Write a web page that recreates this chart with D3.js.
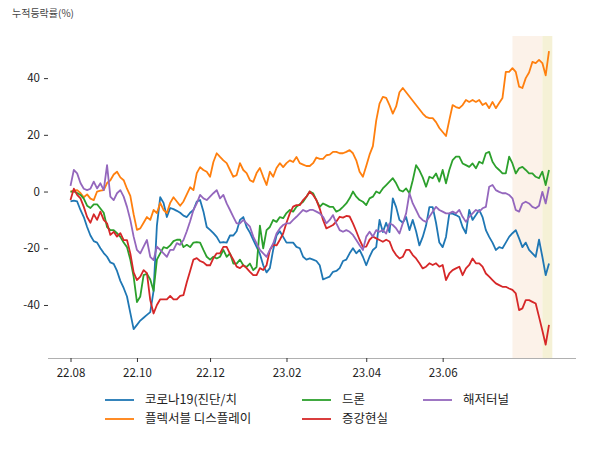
<!DOCTYPE html>
<html>
<head>
<meta charset="utf-8">
<script src="https://cdn.jsdelivr.net/npm/d3@7"></script>
<style>
  body { margin: 0; background: #fff; }
  svg text { font-family: "Noto Sans CJK KR", "Noto Sans", sans-serif; }
</style>
</head>
<body>
<div id="chart"></div>
<script>
// series names (legend order)
const names = ["코로나19(진단/치", "플렉서블 디스플레이", "드론", "증강현실", "해저터널"];
const colors = ["#1f77b4", "#ff7f0e", "#2ca02c", "#d62728", "#9467bd"];

// x tick labels and the trading-day index they sit on
const tickLabels = ["22.08", "22.10", "22.12", "23.02", "23.04", "23.06"];
const tickIndex = [0, 20, 42, 65, 89, 112];

// highlighted spans (index ranges)
const spans = [[133, 142], [142, 145]];
const spanColors = ["#fcf2e9", "#f5f1d6"];

const yTicks = [-40, -20, 0, 20, 40];

// cumulative change (%)
const corona = [-3.5, -3.2, -3.5, -6.5, -9, -12.5, -15.5, -17.5, -18, -20,
  -21.7, -23, -25, -25.5, -28, -31.5, -34, -37, -42.8, -48.5,
  -47, -45.5, -44.5, -43.5, -42.5, -35, -12, -2, -4, -9,
  -5.8, -6.2, -6.8, -7.5, -8.5, -9, -7.5, -6.5, -3.5, -3,
  -7, -12.5, -13.5, -14.7, -16, -18, -17.8, -18, -15.5, -15.5,
  -14, -10, -9, -12.5, -14.5, -17, -19.5, -22, -26, -28.5,
  -27, -20.5, -15.5, -14, -16, -18, -18, -18, -19.5, -20,
  -23, -24, -23.6, -24, -24.5, -26, -31, -30.5, -30, -28.3,
  -28, -27, -24.5, -24, -21.8, -20, -21.8, -20.6, -23, -26,
  -23, -20.6, -19.6, -10, -14.3, -11, -14.3, -2.4, -5.5, -10,
  -11, -9, -13.6, -10, -14, -19, -16, -12, -5.5, -5.5,
  -11, -18, -19.6, -16, -7.8, -7.8, -8.3, -9, -12.5, -14.7,
  -6.5, -10, -8.3, -6.5, -9, -13.6, -16, -18, -20.6, -19.6,
  -20, -18, -16, -14.7, -13.6, -16.5, -19.6, -18, -20.6, -21.8,
  -23, -17, -23, -29.5, -25.4];

const flexible = [0, 0.3, 0.5, -0.5, -2, -1, -2.5, -3, 0, 0.3,
  0.5, 3, 4, 6, 7, 5, 4, 1, -1.5, -8,
  -13.5, -13, -11, -9, -10, -6.5, -7.6, -4, -6.5, -7.6,
  -4, -2, -3.5, -5, -3.5, -1, 1.5, 0.5, 6.5, 8.6,
  7.6, 7, 5.2, 10.4, 13.5, 12.2, 11, 10, 7.6, 5.2,
  5.8, 10, 7.6, 6.5, 4, 3.4, 6.5, 8.3, 5.2, 2.3,
  7, 5.2, 8.3, 10, 8.6, 10, 11, 10.4, 12.2, 10,
  9.5, 9, 9, 10, 12, 11.5, 11.5, 12.8, 13, 14,
  14, 13.5, 13.5, 14, 14.6, 13.5, 11, 7, 5.2, 9,
  13, 16, 25, 31, 33.4, 33, 30.5, 27.5, 30, 35,
  36.5, 35, 33.5, 32, 30.5, 29, 27.5, 26.3, 25.9, 25.9,
  24.5, 22.4, 21, 19.6, 25.2, 30.5, 29.8, 29.4, 30.5, 32.3,
  31.6, 32.3, 31.6, 32.3, 30.5, 31.2, 29.4, 31.6, 29.4, 31.2,
  33, 42.2, 42.2, 43.5, 42.2, 37, 36.5, 40, 42, 45.7,
  45.3, 46.4, 45.3, 41, 49.5];

const drone = [0, 0, -0.5, -1.2, -2.5, -5, -5.8, -4.5, -4.5, -6,
  -7.5, -12.5, -13.6, -13.6, -14.7, -16, -18, -19.6, -24, -30,
  -39, -37, -29.5, -29, -31, -35, -24, -21.8, -19.6, -20,
  -19, -17.5, -17, -17, -19.6, -18.8, -19.6, -18, -17.8, -18,
  -20.6, -23, -24, -23, -23.6, -23, -20.6, -23, -21.8, -25.4,
  -25.4, -24, -26, -26.6, -25.4, -27.7, -26.6, -12, -20, -13.6,
  -12.5, -10, -10.7, -9, -9.4, -7.6, -6.5, -7.1, -5.4, -4.5,
  -3.6, -1.8, 0, -0.6, -3, -5.4, -4.2, -4.8, -5.4, -5.4,
  -7.1, -6.5, -5.4, -4.2, -2.4, 0, -1.8, -3, -3.6, -4.8,
  -2.4, -1.8, 0, -0.6, 1.1, 2.3, 3.5, 4.7, 2.9, 0.5,
  0, 1.1, -0.6, 4, 9.3, 7.5, 5, 1.7, 5.2, 4.7,
  6.4, 3.5, 7.6, 2.9, 7.6, 11.1, 12.3, 12.3, 9.9, 9.3,
  8.7, 9.9, 8.2, 10.5, 9.9, 13.5, 14, 10.5, 8.7, 7.6,
  6.4, 6.4, 12.3, 9.9, 6.4, 8.2, 8.7, 7.6, 6.4, 6.4,
  5.2, 4.7, 7, 2.3, 7.6];

const ar = [-3, 1, -1.2, -2.4, -5.4, -9, -11, -8, -10, -7.1,
  -10, -11.2, -15.3, -14.2, -15.9, -14.7, -17.1, -17.1, -21.8, -28.5,
  -31.2, -30, -27.7, -28.8, -38.3, -43, -40, -38, -38, -38,
  -36.8, -38, -38, -36.8, -36.5, -32, -28, -24, -23.5, -24.5,
  -25, -26, -26, -23.5, -21.8, -21.8, -19.5, -19.5, -22, -24,
  -26.5, -27, -26, -27, -28.3, -29.5, -29.5, -27, -27.7, -26,
  -20.6, -18.8, -19, -17, -14.8, -11, -7.7, -5.3, -4.8, -4.8,
  -3, -1.8, 0, -1.2, -3, -6, -10, -13, -12.4, -11.8,
  -10.6, -8.9, -9.2, -8.6, -8.8, -11.2, -14, -17, -19.5, -19.4,
  -17, -15.9, -16.5, -17.1, -17.7, -17, -17.6, -20.6, -22.4, -23.6,
  -23, -20.6, -20.6, -22.4, -23.6, -25.3, -27.1, -26.5, -25.3, -25.9,
  -25.3, -26.5, -25.9, -31.2, -28.9, -27.7, -27.1, -26.5, -29.5, -27.1,
  -25.9, -23.6, -25.3, -25.3, -26.5, -28.9, -30, -31.2, -32.4, -33,
  -33.6, -33.6, -34.2, -34.7, -35.9, -41.8, -41.2, -38.3, -38.3, -38.9,
  -39.5, -44.2, -49, -54, -47];

const tunnel = [2, 7.6, 6.4, 3, 1, 0.5, 1, 3.5, 1.1, 2.9,
  0.5, 9.3, -1.8, -3, -0.6, 0.5, -1.8, -5.4, -10, -15.9,
  -20.6, -21.8, -19.4, -17.1, -23, -24.2, -19.4, -20.6, -21.8, -23,
  -20.6, -20.6, -18.2, -18.8, -17.1, -14, -10.5, -6.5, -4.2, -1.2,
  -2.4, -3, -1.8, -0.6, 0.5, -2.4, -1.2, -4.2, -6.5, -8.9,
  -11.2, -11.2, -10, -11.2, -12.4, -15.9, -18.3, -20.6, -21.8, -23,
  -20.6, -18.3, -14.8, -13, -11.8, -11.2, -11.2, -10, -8.9, -7.7,
  -6.5, -7.1, -6.5, -6.5, -7.1, -7.7, -8.9, -11.2, -10, -8.3,
  -11.2, -13.6, -14.2, -13.6, -14.2, -15.3, -17.1, -18.9, -20.6, -15.9,
  -14.2, -15.9, -13.6, -14.2, -13.6, -14.8, -11.2, -11.8, -13, -14.8,
  -11.2, -7.7, -0.6, -4.2, -6.5, -8.9, -10.1, -10.7, -8.9, -7.1,
  -5.4, -6.5, -7.1, -7.7, -7.7, -7.1, -7.7, -6.5, -8.9, -10.7,
  -8.9, -7.7, -6.5, -7.1, -5.9, -5.4, 1.7, 2.3, 0.5, -0.1,
  -0.6, -0.6, -1.2, -2.4, -6.5, -7.1, -4.2, -3.6, -4.2, -5.4,
  -5.9, -5, -0.1, -4.2, 1.7];

const series = [corona, flexible, drone, ar, tunnel];

const width = 600, height = 450;
const n = corona.length;

const svg = d3.select("#chart").append("svg")
    .attr("width", width)
    .attr("height", height);

// scales (matplotlib style 5% padding around data)
const xScale = d3.scaleLinear().domain([0, n - 1]).range([70.5, 549]);
const yScale = d3.scaleLinear().domain([-58.7, 54.85]).range([358, 36]);

// shaded spans
spans.forEach(function(s, i) {
    svg.append("rect")
        .attr("x", xScale(s[0]))
        .attr("y", yScale.range()[1])
        .attr("width", xScale(s[1]) - xScale(s[0]))
        .attr("height", yScale.range()[0] - yScale.range()[1])
        .attr("fill", spanColors[i]);
});

// y axis (ticks only, no spine)
const yAxis = svg.append("g")
    .attr("transform", "translate(48,0)")
    .call(d3.axisLeft(yScale).tickValues(yTicks).tickSize(4).tickPadding(4)
        .tickFormat(function(d) { return d; }));
yAxis.select(".domain").remove();
yAxis.selectAll("line").attr("stroke", "#333");
yAxis.selectAll("text").style("font-size", "11.5px").attr("fill", "#222");

// x axis
const xAxis = svg.append("g")
    .attr("transform", "translate(0,358)")
    .call(d3.axisBottom(xScale).tickValues(tickIndex).tickSize(4).tickPadding(7)
        .tickFormat(function(d, i) { return tickLabels[i]; }));
xAxis.select(".domain")
    .attr("d", "M48,0.5H576")
    .attr("stroke", "#b0b0b0");
xAxis.selectAll("line").attr("stroke", "#333");
xAxis.selectAll("text").style("font-size", "11.5px").attr("fill", "#222");

// lines
const line = d3.line()
    .x(function(d, i) { return xScale(i); })
    .y(function(d) { return yScale(d); });

series.forEach(function(s, i) {
    svg.append("path")
        .datum(s)
        .attr("fill", "none")
        .attr("stroke", colors[i])
        .attr("stroke-width", 1.8)
        .attr("stroke-linejoin", "round")
        .attr("d", line);
});

// y label
svg.append("text")
    .attr("x", 12)
    .attr("y", 17)
    .style("font-size", "10px")
    .attr("fill", "#444")
    .text("누적등락률(%)");

// legend, 3 columns filled top-down
const legX = [105, 302, 423];
const legY = [400, 419];
names.forEach(function(name, i) {
    const col = Math.floor(i / 2), row = i % 2;
    const g = svg.append("g")
        .attr("transform", "translate(" + legX[col] + "," + legY[row] + ")");
    g.append("line")
        .attr("x1", 0).attr("x2", 29)
        .attr("y1", 0).attr("y2", 0)
        .attr("stroke", colors[i])
        .attr("stroke-width", 1.8);
    g.append("text")
        .attr("x", 40)
        .attr("y", 0)
        .attr("dy", "0.35em")
        .style("font-size", "12.5px")
        .attr("fill", "#222")
        .text(name);
});
</script>
</body>
</html>
